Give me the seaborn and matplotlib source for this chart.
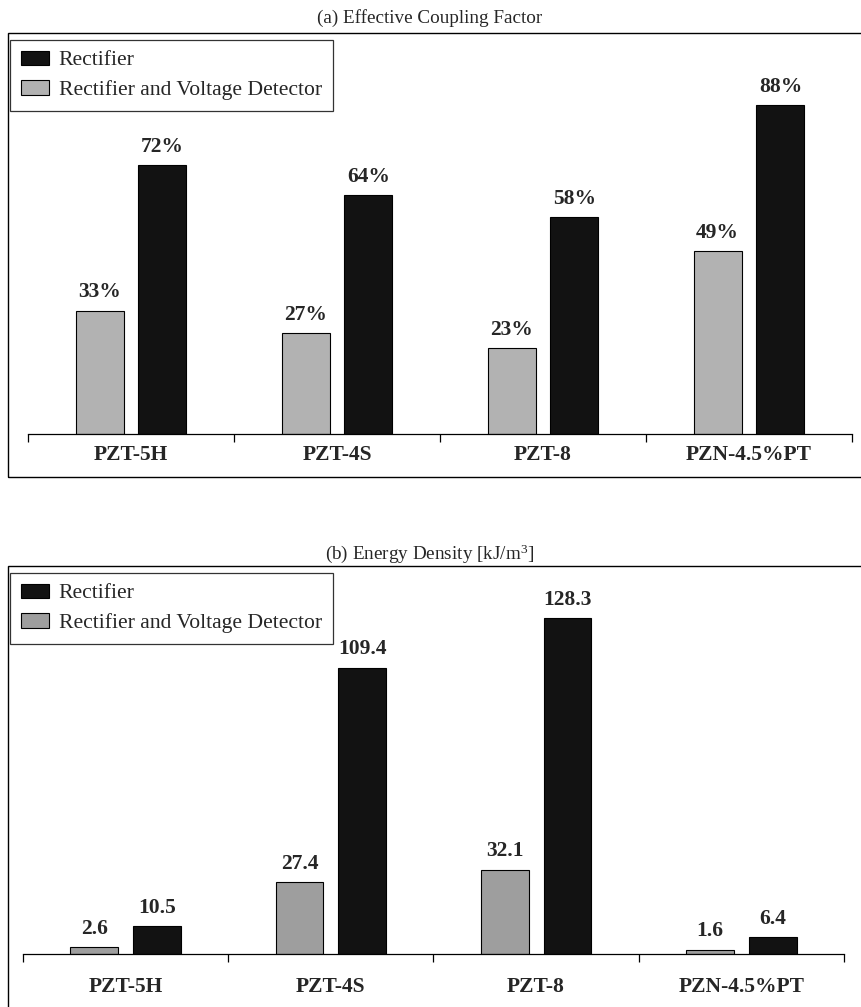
import matplotlib
matplotlib.use("Agg")
import matplotlib.pyplot as plt
from matplotlib.patches import Rectangle
import seaborn as sns
import pandas as pd

materials = ["PZT-5H", "PZT-4S", "PZT-8", "PZN-4.5%PT"]
series_names = ["Rectifier", "Rectifier and Voltage Detector"]
coupling_rect = [72, 64, 58, 88]
coupling_rvd = [33, 27, 23, 49]
energy_rect = [10.5, 109.4, 128.3, 6.4]
energy_rvd = [2.6, 27.4, 32.1, 1.6]
title_a = "(a) Effective Coupling Factor"
title_b = "(b) Energy Density [kJ/m$^{3}$]"

sns.set_style("white")
plt.rcParams["font.family"] = ["Liberation Serif", "DejaVu Serif"]
plt.rcParams["mathtext.fontset"] = "custom"
plt.rcParams["mathtext.rm"] = "Liberation Serif"
plt.rcParams["mathtext.it"] = "Liberation Serif:italic"

W, H = 862, 1007
fig = plt.figure(figsize=(W / 100, H / 100), dpi=100)


def make_df(rect, rvd):
    return pd.DataFrame({
        "Material": materials * 2,
        "Value": list(rect) + list(rvd),
        "Circuit": [series_names[0]] * 4 + [series_names[1]] * 4,
    })


def panel(ax, df, gray, ymax, fmt, lab_pad, legend_top):
    sns.barplot(data=df, x="Material", y="Value", hue="Circuit",
                order=materials, hue_order=[series_names[1], series_names[0]],
                palette=[gray, "#121212"], width=0.61, gap=0.236,
                edgecolor="black", linewidth=0.8, ax=ax, legend=False,
                saturation=1)
    for cont in ax.containers:
        ax.bar_label(cont, fmt=fmt, padding=6, fontsize=15.5,
                     fontweight="bold", clip_on=False)
    ax.set_xlim(-0.5, 3.5)
    ax.set_ylim(0, ymax)
    ax.set_xlabel("")
    ax.set_ylabel("")
    ax.set_yticks([])
    for s in ["top", "left", "right"]:
        ax.spines[s].set_visible(False)
    ax.spines["bottom"].set_color("black")
    ax.spines["bottom"].set_linewidth(0.9)
    ax.set_xticks([-0.5, 0.5, 1.5, 2.5, 3.5])
    ax.set_xticklabels([])
    ax.tick_params(axis="x", which="major", direction="out", length=6,
                   width=0.9, color="black", bottom=True)
    ax.set_xticks([0, 1, 2, 3], minor=True)
    ax.set_xticklabels(materials, minor=True, fontsize=15.5, fontweight="bold")
    ax.tick_params(axis="x", which="minor", length=0, pad=lab_pad)
    ax.patch.set_alpha(0)
    handles = [Rectangle((0, 0), 1, 1, facecolor="#121212", edgecolor="black", lw=0.8),
               Rectangle((0, 0), 1, 1, facecolor=gray, edgecolor="black", lw=0.8)]
    leg = fig.legend(handles, series_names, loc="upper left",
                     bbox_to_anchor=(10 / W, 1 - legend_top / H),
                     bbox_transform=fig.transFigure, borderaxespad=0,
                     frameon=True, fancybox=False, edgecolor="black",
                     fontsize=15.6, handlelength=1.3, handleheight=0.62,
                     handletextpad=0.45, labelspacing=0.45, borderpad=0.5)
    leg.get_frame().set_linewidth(0.9)
    leg.set_zorder(5)


ax_a = fig.add_axes([28 / W, 1 - 434 / H, 824 / W, 373.3 / H])
panel(ax_a, make_df(coupling_rect, coupling_rvd), "#b2b2b2", 100,
      "{:.0f}%", 8, 40)

ax_b = fig.add_axes([23 / W, 1 - 953.7 / H, 821 / W, 366.2 / H])
panel(ax_b, make_df(energy_rect, energy_rvd), "#9e9e9e", 140,
      "{:.1f}", 17, 573)

fig.text(430 / W, 1 - 18 / H, title_a, ha="center", va="center", fontsize=13.8)
fig.text(430 / W, 1 - 554 / H, title_b, ha="center", va="center", fontsize=13.8)

fig.add_artist(Rectangle((8 / W, 1 - 477 / H), (880 - 8) / W, (477 - 33) / H,
                         transform=fig.transFigure, fill=False,
                         edgecolor="black", lw=1.0))
fig.add_artist(Rectangle((8 / W, 1 - 1030 / H), (880 - 8) / W, (1030 - 566) / H,
                         transform=fig.transFigure, fill=False,
                         edgecolor="black", lw=1.0))

fig.savefig("out.png", dpi=100, facecolor="white")
